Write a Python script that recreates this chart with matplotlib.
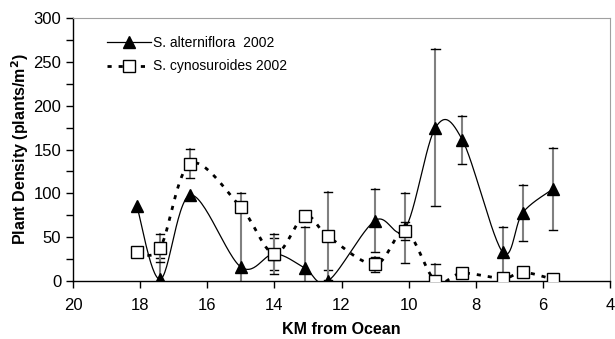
import numpy as np
import matplotlib
matplotlib.use("Agg")
import matplotlib.pyplot as plt
from matplotlib.ticker import MultipleLocator

plt.rcParams['font.family'] = ['Liberation Sans', 'DejaVu Sans']

km = [18.1, 17.4, 16.5, 15.0, 14.0, 13.1, 12.4, 11.0, 10.1, 9.2, 8.4, 7.2, 6.6, 5.7]
alt = [86, 2, 98, 16, 31, 15, 0, 69, 60, 175, 161, 33, 78, 105]
alt_err = [0, 24, 0, 84, 18, 47, 12, 36, 40, 90, 27, 29, 32, 47]
cyn = [33, 38, 134, 84, 31, 74, 51, 19, 57, 0, 9, 3, 10, 2]
cyn_err = [0, 16, 17, 5, 23, 3, 50, 8.5, 10, 19, 0, 0, 0, 0]

labels = ["S. alterniflora  2002", "S. cynosuroides 2002"]


def smooth(x, y, n=30):
    x = np.asarray(x, float)
    y = np.asarray(y, float)
    P = np.column_stack([x, y])
    Pe = np.vstack([P[0], P, P[-1]])
    out = []
    for i in range(len(P) - 1):
        p0, p1, p2, p3 = Pe[i], Pe[i + 1], Pe[i + 2], Pe[i + 3]
        c1 = p1 + (p2 - p0) / 6.0
        c2 = p2 - (p3 - p1) / 6.0
        t = np.linspace(0, 1, n)[:, None]
        seg = ((1 - t) ** 3) * p1 + 3 * ((1 - t) ** 2) * t * c1 + 3 * (1 - t) * t ** 2 * c2 + t ** 3 * p2
        out.append(seg if i == 0 else seg[1:])
    s = np.vstack(out)
    return s[:, 0], s[:, 1]


fig = plt.figure(figsize=(6.15, 3.39), dpi=100)
ax = fig.add_axes([73 / 615, 1 - 281 / 339, (610 - 73) / 615, (281 - 18) / 339])

# error bars
for xs, ys, es in [(km, alt, alt_err), (km, cyn, cyn_err)]:
    for x, y, e in zip(xs, ys, es):
        if e <= 0:
            continue
        ax.plot([x, x], [y - e, y + e], color='#808080', lw=1.5, zorder=2, clip_on=True)
        for yy in (y - e, y + e):
            ax.plot([x - 0.12, x + 0.12], [yy, yy], color='black', lw=1, zorder=2)

sx, sy = smooth(km, alt)
ax.plot(sx, sy, color='black', lw=0.9, zorder=3)
sx2, sy2 = smooth(km, cyn)
ax.plot(sx2, sy2, color='black', lw=2, linestyle=(0, (1.5, 2.5)), zorder=3)

ax.plot(km, alt, linestyle='none', marker='^', ms=8, color='black', zorder=5)
ax.plot(km, cyn, linestyle='none', marker='s', ms=8, mfc='white', mec='black', mew=1, zorder=5)

# legend proxies
h1, = ax.plot([], [], color='black', lw=0.9, marker='^', ms=8)
h2, = ax.plot([], [], color='black', lw=2, linestyle=(0, (1.5, 2.5)), marker='s', ms=8, mfc='white', mec='black', mew=1)
leg = ax.legend([h1, h2], labels, loc='upper left', bbox_to_anchor=(0.04, 0.98), frameon=False,
                fontsize=10, handlelength=3.2, handletextpad=0.1, labelspacing=0.7)

ax.set_xlim(20, 4)
ax.set_ylim(0, 300)
ax.xaxis.set_major_locator(MultipleLocator(2))
ax.yaxis.set_major_locator(MultipleLocator(50))
ax.yaxis.set_minor_locator(MultipleLocator(25))
ax.tick_params(axis='both', which='both', direction='out', labelsize=12, width=1, color='black')
ax.tick_params(axis='both', which='major', length=5)
ax.tick_params(axis='y', which='minor', length=5)
ax.tick_params(axis='x', pad=7)
ax.spines['top'].set_color('#a0a0a0')
ax.spines['right'].set_color('#a0a0a0')
for s in ('left', 'bottom'):
    ax.spines[s].set_color('black')
    ax.spines[s].set_linewidth(1)

ax.set_xlabel('KM from Ocean', fontsize=11.5, fontweight='bold', labelpad=7)
ax.set_ylabel('Plant Density (plants/m$^\\mathbf{2}$)', fontsize=11.5, fontweight='bold', labelpad=2)

fig.savefig('out.png', dpi=100)
